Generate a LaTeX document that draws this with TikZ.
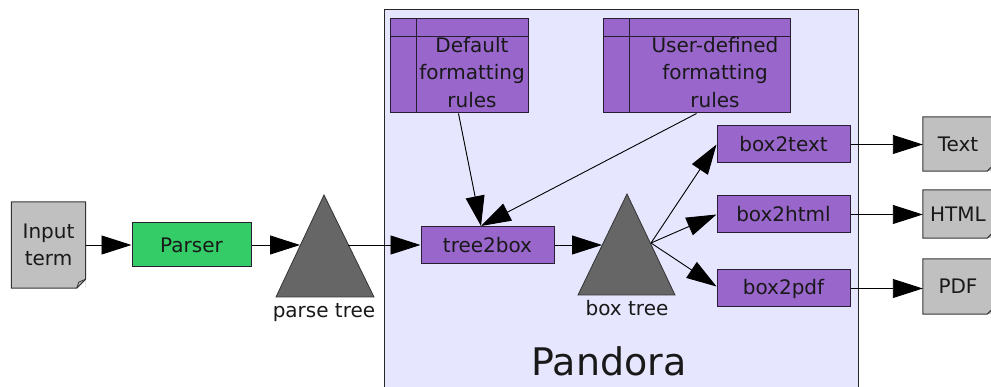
\documentclass[tikz,border=0pt]{standalone}
\usepackage{fontspec}
\setmainfont{DejaVu Sans}
\usetikzlibrary{arrows.meta,calc}
\definecolor{pur}{RGB}{153,102,204}
\definecolor{grn}{RGB}{51,204,102}
\definecolor{gry}{RGB}{192,192,192}
\definecolor{tri}{RGB}{102,102,102}
\definecolor{lav}{RGB}{230,230,255}
\definecolor{edge}{RGB}{40,30,50}
\begin{document}
\begin{tikzpicture}[x=1pt,y=-1pt,
  every node/.style={font=\fontsize{20}{27.5}\selectfont, inner sep=0pt, text=black!90},
  proc/.style={draw=edge, line width=1pt, fill=pur, minimum width=133pt, minimum height=37pt},
  docbox/.style={fill=gry, draw=none, align=center},
  docline/.style={draw=black!80, line width=1pt},
  rules/.style={draw=edge, line width=1pt, fill=pur, minimum width=138pt, minimum height=94pt,
    path picture={\draw[edge, line width=1pt]
      ($(path picture bounding box.north west)+(0,18)$) -- ($(path picture bounding box.north east)+(0,18)$)
      ($(path picture bounding box.north west)+(26,0)$) -- ($(path picture bounding box.south west)+(26,0)$);}},
  arr/.style={draw=black, line width=0.9pt, -{Triangle[length=30pt,width=19pt]}},
  treefill/.style={fill=tri, draw=black!80, line width=0.8pt}
]
\useasboundingbox (0,0) rectangle (991,387);
\fill[white] (0,0) rectangle (991,387);

% Pandora container
\node[draw=black!85, line width=1pt, fill=lav, minimum width=474pt, minimum height=400pt] (pandorabox) at (621,210) {};
\node[font=\fontsize{38}{40}\selectfont] (pandora) at (609,361) {Pandora};

% input document
\node[docbox, minimum width=74pt, minimum height=86pt] (in) at (48.5,245) {Input\\term};
\fill[white] (in.south east) -- ($(in.south east)+(0,-9)$) -- ($(in.south east)+(-9,0)$) -- cycle;
\draw[docline] (in.north west) -- (in.north east) -- ($(in.south east)+(0,-9)$) -- ($(in.south east)+(-9,0)$) -- (in.south west) -- cycle;
\draw[black!80, line width=0.8pt] ($(in.south east)+(-9,0)$) -- ($(in.south east)+(-7,-6)$) -- ($(in.south east)+(0,-9)$);

% parser
\node[proc, fill=grn, minimum width=119pt, minimum height=44pt] (parser) at (191.5,245) {Parser};

% parse tree
\coordinate (ptA) at (324,195);
\coordinate (ptL) at (276,297);
\coordinate (ptR) at (374,297);
\path[treefill] (ptA) -- (ptR) -- (ptL) -- cycle;
\coordinate (ptin) at (300,245);
\coordinate (ptout) at (348,245);
\node (ptlabel) at (324,313) {parse tree};

% tree2box
\node[proc] (t2b) at (487.5,245) {tree2box};

% box tree
\coordinate (btA) at (627,194);
\coordinate (btL) at (578,295);
\coordinate (btR) at (675,295);
\path[treefill] (btA) -- (btR) -- (btL) -- cycle;
\coordinate (btin) at (602,245);
\coordinate (btout) at (651,243);
\node (btlabel) at (627,308) {box tree};

% rules
\node[rules] (def) at (459,66) {};
\node[align=center] (deftext) at (472,72.5) {Default\\formatting\\rules};
\node[rules, minimum width=187pt] (usr) at (696.5,66) {};
\node[align=center] (usrtext) at (715,72.5) {User-defined\\formatting\\rules};
\coordinate (t2bin) at (481,226);

% back-end boxes
\node[proc] (b2t) at (783.5,144.5) {box2text};
\node[proc] (b2h) at (783.5,214.5) {box2html};
\node[proc] (b2p) at (783.5,288.5) {box2pdf};

% output documents
\node[docbox, minimum width=70pt, minimum height=54pt] (otext) at (958,144) {Text};
\node[docbox, minimum width=70pt, minimum height=48pt] (ohtml) at (958,214) {HTML};
\node[docbox, minimum width=70pt, minimum height=55pt] (opdf) at (958,286.5) {PDF};
\foreach \n in {otext,ohtml,opdf}{
  \draw[docline] (\n.south west) -- (\n.north west) -- (\n.north east) -- ($(\n.south east)+(0,-6)$) -- ($(\n.south east)+(-6,0)$) -- cycle;
}

% connectors
\draw[arr] (in.east |- parser.west) -- (parser.west);
\draw[arr] (parser.east) -- (ptin);
\draw[arr] (ptout) -- (t2b.west);
\draw[arr] (t2b.east) -- (btin);
\draw[arr] ($(def.south west)+(69,0)$) -- (t2bin);
\draw[arr] ($(usr.south west)+(94,0)$) -- (t2bin);
\draw[arr] (btout) -- (b2t.west);
\draw[arr] (btout) -- (b2h.west);
\draw[arr] (btout) -- ($(b2p.west)+(0,-2)$);
\draw[arr] (b2t.east) -- (otext.west |- b2t.east);
\draw[arr] (b2h.east) -- (ohtml.west |- b2h.east);
\draw[arr] (b2p.east) -- (opdf.west |- b2p.east);
\end{tikzpicture}
\end{document}
